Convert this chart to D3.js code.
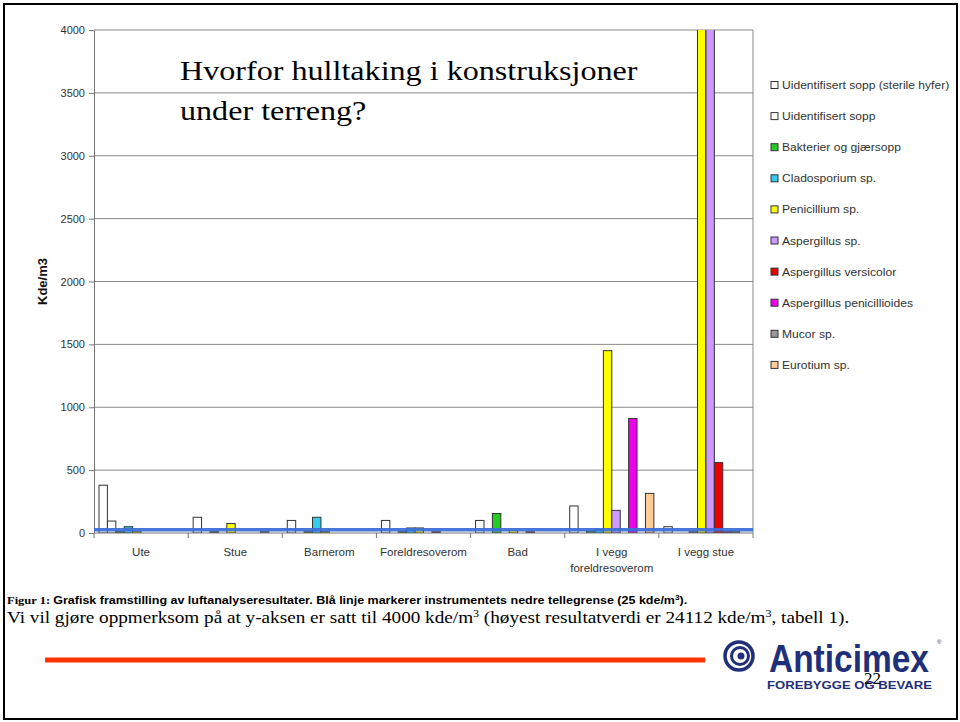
<!DOCTYPE html>
<html>
<head>
<meta charset="utf-8">
<script src="https://cdn.jsdelivr.net/npm/d3@7"></script>
<style>
  body { margin: 0; background: #fff; }
  svg { display: block; }
</style>
</head>
<body>
<div id="chart"></div>
<script>
// Data
const categories = ['Ute', 'Stue', 'Barnerom', 'Foreldresoverom', 'Bad', 'I vegg foreldresoverom', 'I vegg stue'];
const categoryLines = [['Ute'], ['Stue'], ['Barnerom'], ['Foreldresoverom'], ['Bad'], ['I vegg', 'foreldresoverom'], ['I vegg stue']];

const seriesNames = [
  'Uidentifisert sopp (sterile hyfer)',
  'Uidentifisert sopp',
  'Bakterier og gjærsopp',
  'Cladosporium sp.',
  'Penicillium sp.',
  'Aspergillus sp.',
  'Aspergillus versicolor',
  'Aspergillus penicillioides',
  'Mucor sp.',
  'Eurotium sp.'
];

// one array per series, in category order
const sterileHyfer     = [380, 125, 100, 100, 100, 215, 50];
const uidentSopp       = [95, 0, 0, 0, 0, 0, 0];
const bakterier        = [10, 10, 10, 10, 155, 15, 0];
const cladosporium     = [50, 0, 125, 40, 0, 30, 10];
const penicillium      = [15, 75, 10, 40, 20, 1450, 24112];
const aspergillusSp    = [0, 0, 0, 0, 0, 180, 6000];
const versicolor       = [0, 0, 0, 10, 10, 0, 560];
const penicillioides   = [0, 0, 0, 0, 0, 910, 10];
const mucor            = [0, 10, 0, 0, 0, 0, 10];
const eurotium         = [0, 0, 0, 0, 0, 315, 0];

const seriesValues = [sterileHyfer, uidentSopp, bakterier, cladosporium, penicillium,
  aspergillusSp, versicolor, penicillioides, mucor, eurotium];

const yTicks = [0, 500, 1000, 1500, 2000, 2500, 3000, 3500, 4000];
const yMax = 4000;
const detectionLimit = 25;

const seriesColors = ['#ffffff', '#ffffff', '#22cc22', '#33ccee', '#ffff00',
  '#cc99ff', '#ee0000', '#ee00ee', '#999999', '#ffcc99'];

const width = 960, height = 722;
const plot = { left: 94, right: 753, top: 30, bottom: 533 };
// the slide text is drawn a bit wider than the font's natural width
const stretch = 1.19;

const svg = d3.select('#chart').append('svg')
  .attr('width', width)
  .attr('height', height);

// page frame
svg.append('rect')
  .attr('x', 4).attr('y', 4)
  .attr('width', 953).attr('height', 715)
  .attr('fill', 'none')
  .attr('stroke', '#000')
  .attr('stroke-width', 2);

// scales
const x0 = d3.scaleBand()
  .domain(categories)
  .range([plot.left, plot.right])
  .paddingInner(0.106)
  .paddingOuter(0.053);

const x1 = d3.scaleBand()
  .domain(seriesNames)
  .range([0, x0.bandwidth()]);

const y = d3.scaleLinear()
  .domain([0, yMax])
  .range([plot.bottom, plot.top]);

// grid lines
svg.append('g')
  .selectAll('line')
  .data(yTicks.filter(d => d > 0))
  .join('line')
  .attr('x1', plot.left).attr('x2', plot.right)
  .attr('y1', d => y(d)).attr('y2', d => y(d))
  .attr('stroke', '#8a8a8a')
  .attr('stroke-width', 1);

// right border of the plot area
svg.append('line')
  .attr('x1', plot.right).attr('x2', plot.right)
  .attr('y1', plot.top).attr('y2', plot.bottom)
  .attr('stroke', '#8a8a8a');

// bars, clipped at the 4000 ceiling
svg.append('clipPath').attr('id', 'plot-clip')
  .append('rect')
  .attr('x', plot.left).attr('y', plot.top)
  .attr('width', plot.right - plot.left)
  .attr('height', plot.bottom - plot.top);

const rows = categories.map((c, ci) => ({
  cat: c,
  vals: seriesNames.map((s, si) => ({ series: s, si, value: seriesValues[si][ci] }))
}));

const barG = svg.append('g').attr('clip-path', 'url(#plot-clip)');

barG.selectAll('g')
  .data(rows)
  .join('g')
  .attr('transform', d => `translate(${x0(d.cat)},0)`)
  .selectAll('rect')
  .data(d => d.vals.filter(v => v.value > 0))
  .join('rect')
  .attr('x', d => x1(d.series))
  .attr('y', d => y(Math.min(d.value, yMax * 1.01)))
  .attr('width', x1.bandwidth())
  .attr('height', d => y(0) - y(Math.min(d.value, yMax * 1.01)))
  .attr('fill', d => seriesColors[d.si])
  .attr('stroke', '#333')
  .attr('stroke-width', 1);

// Y axis
const yAxis = svg.append('g')
  .attr('transform', `translate(${plot.left},0)`)
  .call(d3.axisLeft(y).tickValues(yTicks).tickFormat(d3.format('d'))
    .tickSize(5).tickSizeOuter(0).tickPadding(4));
yAxis.select('.domain').attr('stroke', '#777');
yAxis.selectAll('.tick line').attr('stroke', '#777');
yAxis.selectAll('text')
  .attr('font-family', 'Arial, "Liberation Sans", sans-serif')
  .attr('font-size', '11px')
  .attr('fill', '#333');

// X axis line and category ticks
svg.append('line')
  .attr('x1', plot.left).attr('x2', plot.right)
  .attr('y1', plot.bottom).attr('y2', plot.bottom)
  .attr('stroke', '#777');

svg.append('g')
  .selectAll('line')
  .data(d3.range(categories.length + 1))
  .join('line')
  .attr('x1', i => plot.left + i * x0.step())
  .attr('x2', i => plot.left + i * x0.step())
  .attr('y1', plot.bottom).attr('y2', plot.bottom + 5)
  .attr('stroke', '#777');

const xLabels = svg.append('g')
  .attr('font-family', 'Arial, "Liberation Sans", sans-serif')
  .attr('font-size', '11.5px')
  .attr('fill', '#333')
  .attr('text-anchor', 'middle');

categories.forEach((c, ci) => {
  categoryLines[ci].forEach((line, li) => {
    xLabels.append('text')
      .attr('x', x0(c) + x0.bandwidth() / 2)
      .attr('y', 556 + li * 16)
      .text(line);
  });
});

// detection limit (blue line)
svg.append('line')
  .attr('x1', plot.left).attr('x2', plot.right)
  .attr('y1', y(detectionLimit)).attr('y2', y(detectionLimit))
  .attr('stroke', '#3f6fd8')
  .attr('stroke-width', 3.5)
  .attr('opacity', 0.95);

// Y axis title
svg.append('text')
  .attr('transform', `translate(47,${(plot.top + plot.bottom) / 2}) rotate(-90)`)
  .attr('text-anchor', 'middle')
  .attr('font-family', 'Arial, "Liberation Sans", sans-serif')
  .attr('font-size', '13px')
  .attr('font-weight', 'bold')
  .attr('fill', '#111')
  .text('Kde/m3');

// legend
const legend = svg.append('g')
  .attr('font-family', 'Arial, "Liberation Sans", sans-serif')
  .attr('font-size', '11px')
  .attr('fill', '#333');

seriesNames.forEach((s, i) => {
  const ly = 85 + i * 31.1;
  legend.append('rect')
    .attr('x', 771).attr('y', ly - 3.5)
    .attr('width', 7).attr('height', 7)
    .attr('fill', seriesColors[i])
    .attr('stroke', '#333')
    .attr('stroke-width', 1);
  legend.append('text')
    .attr('transform', `translate(782,${ly + 4}) scale(1.1,1)`)
    .text(s);
});

// slide title
const title = svg.append('text')
  .attr('transform', `translate(180,0) scale(${stretch},1)`)
  .attr('font-family', '"Times New Roman", "Liberation Serif", serif')
  .attr('font-size', '27px')
  .attr('fill', '#000');
title.append('tspan').attr('x', 0).attr('y', 80).text('Hvorfor hulltaking i konstruksjoner');
title.append('tspan').attr('x', 0).attr('y', 120).text('under terreng?');

// caption
const cap1 = svg.append('text')
  .attr('transform', `translate(7,604) scale(${stretch},1)`)
  .attr('font-size', '10.5px')
  .attr('fill', '#000');
cap1.append('tspan')
  .attr('font-family', '"Times New Roman", "Liberation Serif", serif')
  .attr('font-weight', 'bold')
  .text('Figur 1: ');
cap1.append('tspan')
  .attr('font-family', '"Liberation Sans Narrow", Arial, sans-serif')
  .attr('font-weight', 'bold')
  .text('Grafisk framstilling av luftanalyseresultater.  Blå linje markerer instrumentets nedre tellegrense (25 kde/m');
cap1.append('tspan')
  .attr('font-family', '"Liberation Sans Narrow", Arial, sans-serif')
  .attr('font-weight', 'bold')
  .attr('font-size', '7px').attr('dy', -4).text('3');
cap1.append('tspan')
  .attr('font-family', '"Liberation Sans Narrow", Arial, sans-serif')
  .attr('font-weight', 'bold')
  .attr('dy', 4).text(').');

const cap2 = svg.append('text')
  .attr('transform', `translate(7,623) scale(1.2,1)`)
  .attr('font-family', '"Times New Roman", "Liberation Serif", serif')
  .attr('font-size', '16px')
  .attr('fill', '#000');
cap2.append('tspan').text('Vi vil gjøre oppmerksom på at y-aksen er satt til 4000 kde/m');
cap2.append('tspan').attr('font-size', '10px').attr('dy', -6).text('3');
cap2.append('tspan').attr('dy', 6).text(' (høyest resultatverdi er 24112 kde/m');
cap2.append('tspan').attr('font-size', '10px').attr('dy', -6).text('3');
cap2.append('tspan').attr('dy', 6).text(', tabell 1).');

// footer line
svg.append('line')
  .attr('x1', 45).attr('x2', 705)
  .attr('y1', 660).attr('y2', 660)
  .attr('stroke', '#ff3300')
  .attr('stroke-width', 5);

// logo
const navy = '#1f2f7a';
const logo = svg.append('g');
logo.append('circle').attr('cx', 739).attr('cy', 656).attr('r', 14)
  .attr('fill', 'none').attr('stroke', navy).attr('stroke-width', 3.5);
logo.append('circle').attr('cx', 740).attr('cy', 656).attr('r', 8.5)
  .attr('fill', 'none').attr('stroke', navy).attr('stroke-width', 3);
logo.append('circle').attr('cx', 741).attr('cy', 656).attr('r', 3.5)
  .attr('fill', navy);
logo.append('text')
  .attr('x', 769).attr('y', 672)
  .attr('font-family', '"Liberation Sans Narrow", Arial, sans-serif')
  .attr('font-weight', 'bold')
  .attr('font-size', '38px')
  .attr('fill', navy)
  .attr('textLength', 160)
  .attr('lengthAdjust', 'spacingAndGlyphs')
  .text('Anticimex');
logo.append('text')
  .attr('x', 937).attr('y', 644)
  .attr('font-family', 'Arial, sans-serif')
  .attr('font-size', '6px')
  .attr('fill', navy)
  .text('®');
logo.append('text')
  .attr('x', 767).attr('y', 689)
  .attr('font-family', 'Arial, sans-serif')
  .attr('font-weight', 'bold')
  .attr('font-size', '10px')
  .attr('fill', navy)
  .attr('textLength', 165)
  .attr('lengthAdjust', 'spacingAndGlyphs')
  .text('FOREBYGGE OG BEVARE');

// slide number (sits over the logo on the slide)
svg.append('text')
  .attr('x', 864).attr('y', 684)
  .attr('font-family', '"Times New Roman", "Liberation Serif", serif')
  .attr('font-size', '17px')
  .attr('fill', '#000')
  .text('22');
</script>
</body>
</html>
